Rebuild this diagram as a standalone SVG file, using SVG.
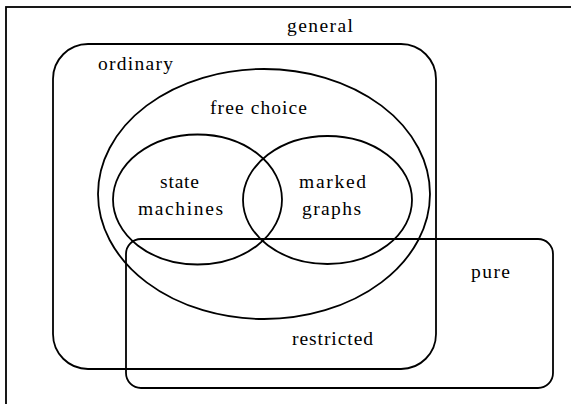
<svg xmlns="http://www.w3.org/2000/svg" width="571" height="404" viewBox="0 0 571 404">
<style>
.s{fill:none;stroke:#000;stroke-width:1.8}
.t{font-family:'Liberation Serif','Times New Roman',serif;font-size:19.5px;fill:#000}
</style>
<rect width="571" height="404" fill="#fff"/>
<g id="general">
<rect class="s" x="6" y="7" width="580" height="410"/>
<text class="t" font-family="Liberation Serif, serif" x="287" y="32" textLength="66" lengthAdjust="spacing">general</text>
</g>
<g id="ordinary">
<rect class="s" x="53" y="44" width="383" height="325" rx="35" ry="35"/>
<text class="t" font-family="Liberation Serif, serif" x="98" y="70" textLength="75" lengthAdjust="spacing">ordinary</text>
</g>
<g id="free-choice">
<ellipse class="s" cx="264" cy="194" rx="166" ry="125"/>
<text class="t" font-family="Liberation Serif, serif" x="210" y="114" textLength="97" lengthAdjust="spacing">free choice</text>
</g>
<g id="state-machines">
<ellipse class="s" cx="197.5" cy="199.5" rx="84.5" ry="65"/>
<text class="t" font-family="Liberation Serif, serif" x="160" y="188" textLength="39" lengthAdjust="spacing">state</text>
<text class="t" font-family="Liberation Serif, serif" x="138" y="215" textLength="85" lengthAdjust="spacing">machines</text>
</g>
<g id="marked-graphs">
<ellipse class="s" cx="327.5" cy="200" rx="84.5" ry="64"/>
<text class="t" font-family="Liberation Serif, serif" x="299" y="188" textLength="67" lengthAdjust="spacing">marked</text>
<text class="t" font-family="Liberation Serif, serif" x="302" y="215" textLength="59" lengthAdjust="spacing">graphs</text>
</g>
<g id="pure">
<rect class="s" x="126" y="239" width="427" height="149" rx="15" ry="15"/>
<text class="t" font-family="Liberation Serif, serif" x="471" y="278" textLength="39" lengthAdjust="spacing">pure</text>
</g>
<g id="restricted">
<text class="t" font-family="Liberation Serif, serif" x="292" y="345" textLength="81" lengthAdjust="spacing">restricted</text>
</g>
<g id="connectors"></g>
</svg>
